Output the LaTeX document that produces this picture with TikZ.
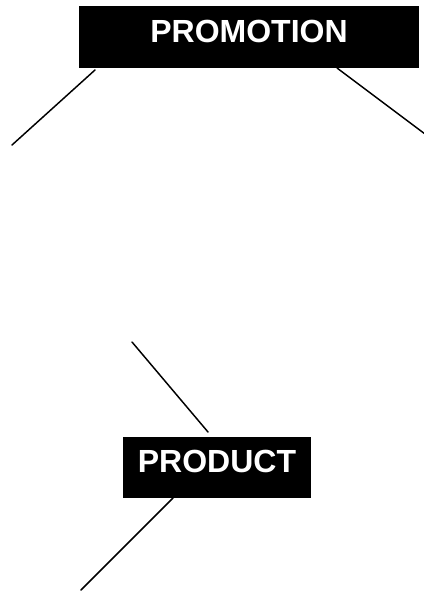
\documentclass[tikz,border=0pt]{standalone}
\usepackage{fontspec}
\setmainfont{Liberation Sans}
\begin{document}
\begin{tikzpicture}[x=0.75pt,y=-0.75pt,
  box/.style={fill=black,text=white,font=\bfseries\fontsize{24}{28}\selectfont,inner sep=0pt,anchor=center},
  conn/.style={line width=1.1pt,black,line cap=round}]
\useasboundingbox (0,0) rectangle (424,592);
\node[box,minimum width=255pt,text height=27.75pt,text depth=18.75pt] (promo) at (249,37) {PROMOTION};
\node[box,minimum width=141pt,text height=26.75pt,text depth=19pt] (prod) at (217,467.5) {PRODUCT};
\coordinate (a1) at (95,70);   \coordinate (a2) at (12,145);
\coordinate (b1) at (337,68);  \coordinate (b2) at (425,134);
\coordinate (c1) at (132,342); \coordinate (c2) at (208,432);
\coordinate (d1) at (173,498); \coordinate (d2) at (81,590);
\draw[conn] (a1) -- (a2);
\draw[conn] (b1) -- (b2);
\draw[conn] (c1) -- (c2);
\draw[conn] (d1) -- (d2);
\end{tikzpicture}
\end{document}
